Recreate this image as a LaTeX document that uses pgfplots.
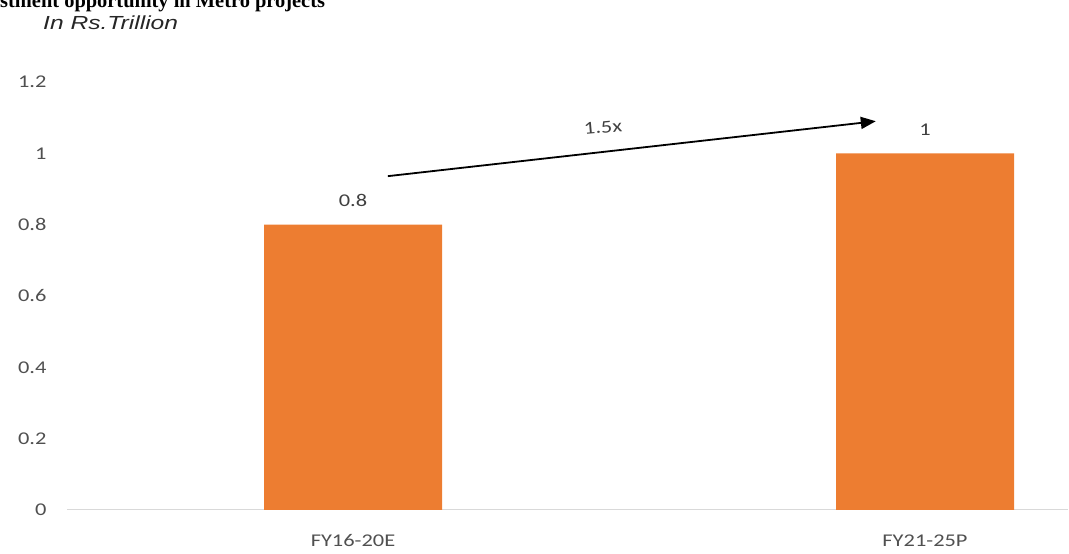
\documentclass[border=0pt]{standalone}
\usepackage{fontspec}
\setmainfont{Carlito}[FakeStretch=1.25]
\newfontfamily\titlefont{Liberation Serif}
\newfontfamily\unitfont{Liberation Sans}[FakeStretch=1.3]
\usepackage{pgfplots}
\pgfplotsset{compat=1.18}
\usetikzlibrary{arrows.meta}
\definecolor{barorange}{HTML}{ED7D31}
\definecolor{tickgray}{HTML}{505050}
\definecolor{lblgray}{HTML}{404040}
\definecolor{axgray}{HTML}{D9D9D9}
\begin{document}
\begin{tikzpicture}[x=1bp,y=1bp]
\useasboundingbox (0,0) rectangle (1069,554);
\clip (0,0) rectangle (1069,554);
\begin{axis}[
  at={(67bp,44bp)}, anchor=south west,
  scale only axis, width=1001bp, height=428bp,
  xmin=-0.5, xmax=1.25, ymin=0, ymax=1.2,
  separate axis lines,
  axis x line*=bottom, axis y line*=left,
  x axis line style={draw=axgray, line width=1pt, -},
  y axis line style={draw=none},
  tick style={draw=none},
  xtick={0,1}, xticklabels={FY16-20E, FY21-25P},
  ytick={0,0.2,0.4,0.6,0.8,1,1.2},
  /pgf/number format/assume math mode=true,
  ticklabel style={font=\fontsize{18}{18}\selectfont, text=tickgray},
  xticklabel style={yshift=-17bp},
  yticklabel style={xshift=-17bp},
  ybar, bar width=178bp,
  nodes near coords,
  every node near coord/.append style={font=\fontsize{18}{18}\selectfont, text=lblgray, yshift=14bp},
]
\addplot[fill=barorange, draw=none] coordinates {(0,0.8) (1,1)};
\draw[-{Triangle[length=15bp,width=12bp]}, line width=1.8bp, black] (axis cs:0.061,0.936) -- (axis cs:0.914,1.09);
\node[rotate=5, text=lblgray, font=\fontsize{18}{18}\selectfont] at (axis cs:0.437,1.073) {1.5x};
\end{axis}
\node[anchor=base west, font=\titlefont\bfseries\fontsize{20.5}{22}\selectfont, inner sep=0] at (0,546) {stment opportunity in Metro projects};
\node[anchor=base west, font=\unitfont\itshape\fontsize{19}{20}\selectfont, text=black!85, inner sep=0] at (43,524) {In Rs.Trillion};
\end{tikzpicture}
\end{document}
